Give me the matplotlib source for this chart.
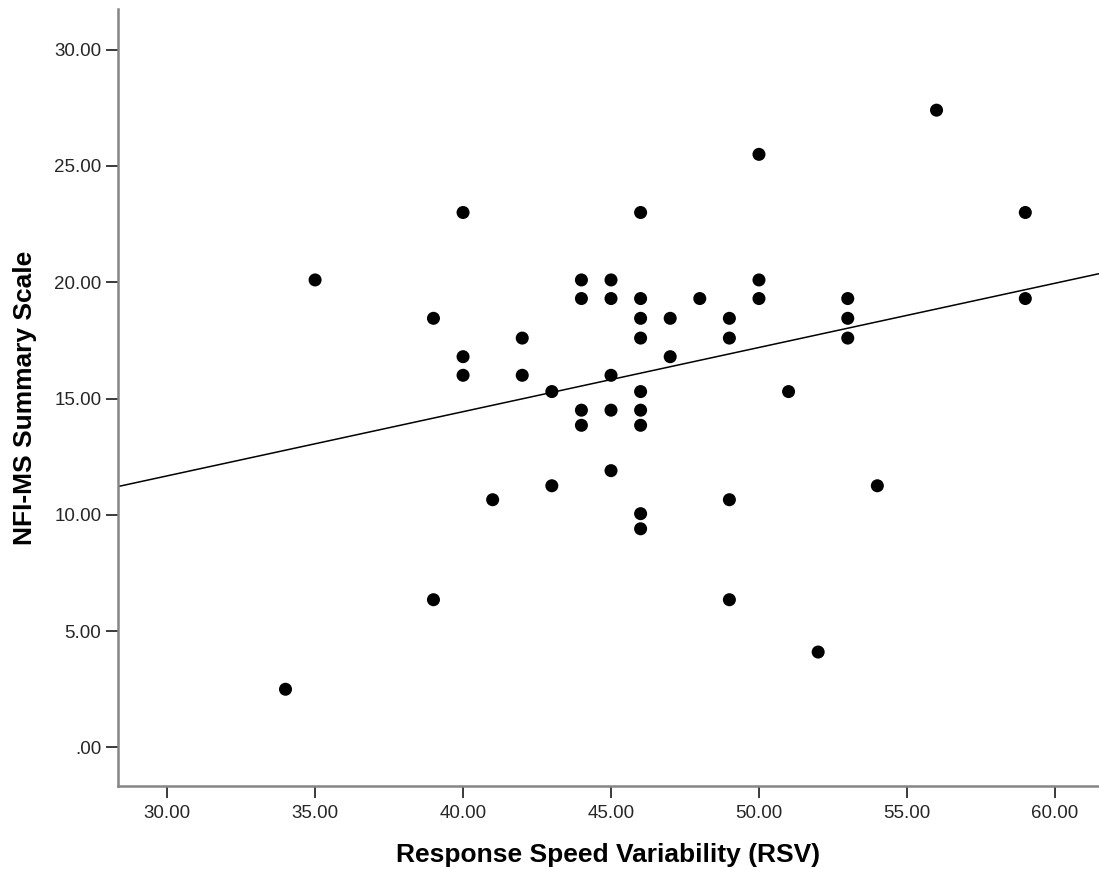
import numpy as np
import matplotlib
matplotlib.use("Agg")
import matplotlib.pyplot as plt
from matplotlib.ticker import FuncFormatter

# values
rsv = [34, 35, 39, 39, 40, 40, 40, 41, 42, 42, 43, 43,
       44, 44, 44, 44, 45, 45, 45, 45, 45,
       46, 46, 46, 46, 46, 46, 46, 46, 46,
       47, 47, 48, 49, 49, 49, 49, 50, 50, 50, 51, 52,
       53, 53, 53, 54, 56, 59, 59]
nfi = [2.5, 20.1, 18.45, 6.35, 23.0, 16.8, 16.0, 10.65, 17.6, 16.0, 15.3, 11.25,
       20.1, 19.3, 14.5, 13.85, 20.1, 19.3, 16.0, 14.5, 11.9,
       23.0, 19.3, 18.45, 17.6, 15.3, 14.5, 13.85, 10.05, 9.4,
       18.45, 16.8, 19.3, 18.45, 17.6, 10.65, 6.35, 25.5, 20.1, 19.3, 15.3, 4.1,
       19.3, 18.45, 17.6, 11.25, 27.4, 23.0, 19.3]

x_ticks = [30, 35, 40, 45, 50, 55, 60]
y_ticks = [0, 5, 10, 15, 20, 25, 30]

fig = plt.figure(figsize=(10.99, 8.69), dpi=100)
ax = fig.add_axes([118 / 1099, 1 - 786 / 869, 1 - 118 / 1099, (786 - 9) / 869])

ax.scatter(rsv, nfi, s=88, color="black", edgecolors="none", zorder=3)

# fit line across the whole x range
xlim = (28.34, 61.49)
slope, icpt = np.polyfit(rsv, nfi, 1)
xs = np.array(xlim)
ax.plot(xs, icpt + slope * xs, color="black", lw=1.1, zorder=2)

ax.set_xlim(*xlim)
ax.set_ylim(-1.66, 31.75)
ax.set_xticks(x_ticks)
ax.set_yticks(y_ticks)


def fmt(v, pos):
    s = "%.2f" % v
    return s[1:] if s.startswith("0") else s


ax.xaxis.set_major_formatter(FuncFormatter(fmt))
ax.yaxis.set_major_formatter(FuncFormatter(fmt))

for side in ("top", "right"):
    ax.spines[side].set_visible(False)
for side in ("left", "bottom"):
    ax.spines[side].set_color("#858585")
    ax.spines[side].set_linewidth(1.8)

ax.tick_params(direction="out", length=8.5, width=1.4, color="#3a3a3a",
               labelsize=13.5, labelcolor="#262626")
ax.tick_params(axis="x", pad=5)
ax.tick_params(axis="y", pad=3.5)
for lab in ax.get_xticklabels() + ax.get_yticklabels():
    lab.set_family(["Liberation Sans", "DejaVu Sans"])

label_font = dict(family=["Liberation Sans", "DejaVu Sans"],
                  weight="bold", size=19)
ax.set_xlabel("Response Speed Variability (RSV)", labelpad=15, **label_font)
ax.set_ylabel("NFI-MS Summary Scale", labelpad=12, **label_font)

fig.savefig("out.png", dpi=100)
